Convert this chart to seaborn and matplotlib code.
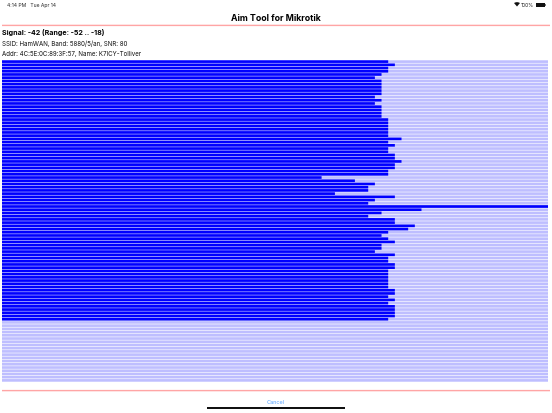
import matplotlib
matplotlib.use('Agg')
import matplotlib.pyplot as plt
from matplotlib.patches import Polygon, Rectangle, Wedge
import pandas as pd
import seaborn as sns

sns.set_theme(style='white')
plt.rcParams['font.family'] = ['Inter', 'DejaVu Sans']

W, H = 552, 414

# signal per sample in dBm, newest first, None = no sample yet
signal = [
    -42, -41, -42, -42, -43, -44, -43, -43, -43, -43,
    -43, -44, -43, -44, -43, -43, -43, -43, -42, -42,
    -42, -42, -42, -42, -40, -42, -41, -42, -42, -41,
    -41, -40, -41, -41, -42, -42, -52, -47, -44, -45,
    -45, -50, -41, -44, -45, -18, -37, -43, -45, -41,
    -41, -38, -39, -42, -43, -42, -41, -43, -43, -44,
    -41, -42, -42, -41, -41, -42, -42, -42, -42, -42,
    -42, -41, -41, -42, -41, -42, -41, -41, -41, -41,
    -42,
] + [None] * 19
floor_dbm = -100
ceil_dbm = -18

df = pd.DataFrame({'sample': range(len(signal)), 'signal': signal})
df['level'] = df['signal'] - floor_dbm
df['full'] = ceil_dbm - floor_dbm


def px(x, y):
    return x / W, 1 - y / H


fig = plt.figure(figsize=(W / 100, H / 100), dpi=100, facecolor='white')
ax = fig.add_axes([2 / W, 1 - 383 / H, 546 / W, 322 / H])
sns.barplot(data=df, y='sample', x='full', orient='h', color='#bebeff', saturation=1, width=0.82,
            linewidth=0, ax=ax)
sns.barplot(data=df.dropna(), y='sample', x='level', orient='h', color='#0000ff', saturation=1, width=0.82,
            linewidth=0, ax=ax, native_scale=True)
for bar in ax.patches:
    bar.set_snap(False)
ax.set_xlim(0, ceil_dbm - floor_dbm)
ax.set_ylim(len(signal) - 0.5, -0.5)
ax.axis('off')

# header and footer
fig.text(*px(7, 5.5), '4:14 PM   Tue Apr 14', fontsize=3.6, color='#222222', va='center')
fig.text(*px(521, 5.5), '100%', fontsize=3.6, color='#222222', va='center')
fig.text(*px(276, 18.7), 'Aim Tool for Mikrotik', fontsize=6.3, fontweight='bold', color='black',
         ha='center', va='center')
fig.text(*px(2, 33), 'Signal: -42 (Range: -52 .. -18)', fontsize=5.1, fontweight='bold', color='black', va='center')
fig.text(*px(2, 44), 'SSID: HamWAN, Band: 5880/5/an, SNR: 80', fontsize=4.45, color='#111111', va='center')
fig.text(*px(2, 54.3), 'Addr: 4C:5E:0C:89:3F:57, Name: K7ICY-Tolliver', fontsize=4.45, color='#111111', va='center')
fig.text(*px(275.5, 403), 'Cancel', fontsize=4, color='#5aa5ff', ha='center', va='center')

for y in (26.4, 391.6):
    line = Rectangle(px(2, y + 0.7), 548 / W, 1.4 / H, transform=fig.transFigure, color='#ffa5a5', lw=0)
    line.set_snap(False)
    fig.add_artist(line)

# wifi glyph, battery and home indicator
fig.add_artist(Polygon([px(514, 4), px(516, 3.2), px(518, 3.2), px(520, 4), px(517, 7.5)],
                       transform=fig.transFigure, color='#111111', lw=0))
fig.add_artist(Rectangle(px(535.5, 7.5), 9.5 / W, 4 / H, transform=fig.transFigure, color='#111111', lw=0))
fig.add_artist(Rectangle(px(545.2, 6.5), 0.8 / W, 2 / H, transform=fig.transFigure, color='#777777', lw=0))
fig.add_artist(Rectangle(px(207, 410), 138 / W, 2 / H, transform=fig.transFigure, color='#111111', lw=0))

fig.savefig('out.png', dpi=100)
